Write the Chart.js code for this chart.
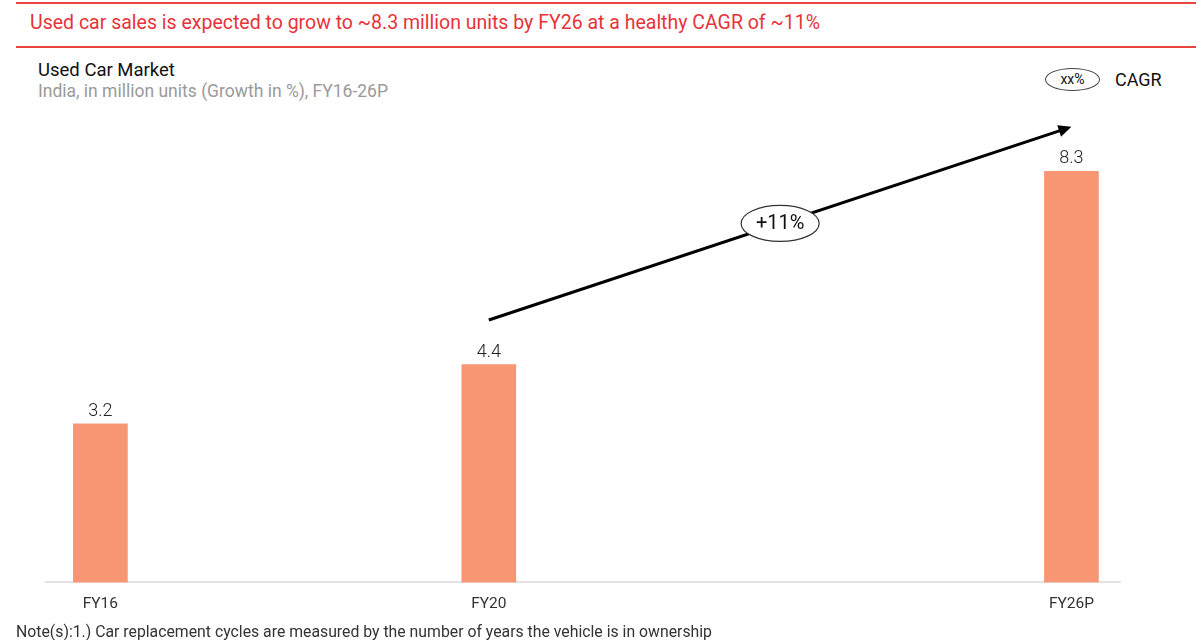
<!DOCTYPE html>
<html>
<head>
<meta charset="utf-8">
<script src="https://cdn.jsdelivr.net/npm/chart.js@4.4.0/dist/chart.umd.min.js"></script>
<style>
  html, body { margin: 0; padding: 0; background: #fff; }
  body { width: 1196px; height: 640px; position: relative; overflow: hidden; font-family: Roboto, sans-serif; }
  .rule { position: absolute; left: 16px; right: 0; height: 2px; background: #e8433e; }
  .headline { position: absolute; left: 30px; top: 11px; font-size: 19.5px; color: #e8333a; white-space: nowrap; }
  .title { position: absolute; left: 38px; top: 59px; font-size: 18.5px; color: #111; }
  .subtitle { position: absolute; left: 38px; top: 81px; font-size: 17.5px; color: #9a9a9a; }
  .note { position: absolute; left: 16px; top: 622px; font-size: 15.8px; color: #333; white-space: nowrap; }
  .legend { position: absolute; left: 1045px; top: 67px; height: 24px; display: flex; align-items: center; }
  .pill { width: 55px; height: 23px; border: 1.5px solid #444; border-radius: 50%; box-sizing: border-box;
          font-size: 14px; display: flex; align-items: center; justify-content: center; color: #111; }
  .legend span { margin-left: 15px; font-size: 18px; color: #111; }
  #wrap { position: absolute; left: 0; top: 0; width: 1196px; height: 640px; }
</style>
</head>
<body>
<div class="rule" style="top:2px"></div>
<div class="headline">Used car sales is expected to grow to ~8.3 million units by FY26 at a healthy CAGR of ~11%</div>
<div class="rule" style="top:46px"></div>
<div class="title">Used Car Market</div>
<div class="subtitle">India, in million units (Growth in %), FY16-26P</div>
<div class="legend"><div class="pill">xx%</div><span>CAGR</span></div>
<div id="wrap"><canvas id="chart"></canvas></div>
<div class="note">Note(s):1.) Car replacement cycles are measured by the number of years the vehicle is in ownership</div>
<script>
// fiscal years (x positions on a time scale), labels and values in million units
const years = [16, 20, 26];
const yearLabels = ['FY16', 'FY20', 'FY26P'];
const units = [3.2, 4.4, 8.3];

// CAGR arrow, in data units [year, million units]
const cagrText = '+11%';
const arrowFrom = [20, 5.3];
const arrowTo = [26, 9.2];

const overlay = {
  id: 'overlay',
  afterDatasetsDraw(chart) {
    const { ctx, scales: { x, y } } = chart;
    ctx.save();
    // value labels
    ctx.font = '300 18px Roboto, sans-serif';
    ctx.fillStyle = '#222';
    ctx.textAlign = 'center';
    ctx.textBaseline = 'alphabetic';
    chart.getDatasetMeta(0).data.forEach((bar, i) => {
      ctx.fillText(units[i].toFixed(1), bar.x, bar.y - 8);
    });

    // arrow
    const x1 = x.getPixelForValue(arrowFrom[0]), y1 = y.getPixelForValue(arrowFrom[1]);
    const x2 = x.getPixelForValue(arrowTo[0]), y2 = y.getPixelForValue(arrowTo[1]);
    const ang = Math.atan2(y2 - y1, x2 - x1);
    ctx.strokeStyle = '#000';
    ctx.lineWidth = 3;
    ctx.beginPath();
    ctx.moveTo(x1, y1);
    ctx.lineTo(x2 - 8 * Math.cos(ang), y2 - 8 * Math.sin(ang));
    ctx.stroke();
    ctx.fillStyle = '#000';
    ctx.beginPath();
    ctx.moveTo(x2, y2);
    ctx.lineTo(x2 - 13 * Math.cos(ang) + 6 * Math.sin(ang), y2 - 13 * Math.sin(ang) - 6 * Math.cos(ang));
    ctx.lineTo(x2 - 13 * Math.cos(ang) - 6 * Math.sin(ang), y2 - 13 * Math.sin(ang) + 6 * Math.cos(ang));
    ctx.closePath();
    ctx.fill();

    // CAGR bubble
    const mx = (x1 + x2) / 2, my = (y1 + y2) / 2;
    ctx.beginPath();
    ctx.ellipse(mx, my, 39, 18, 0, 0, Math.PI * 2);
    ctx.fillStyle = '#fff';
    ctx.fill();
    ctx.lineWidth = 1.2;
    ctx.strokeStyle = '#333';
    ctx.stroke();
    ctx.fillStyle = '#111';
    ctx.font = '20px Roboto, sans-serif';
    ctx.textBaseline = 'middle';
    ctx.fillText(cagrText, mx, my + 1);
    ctx.restore();
  }
};

new Chart(document.getElementById('chart'), {
  type: 'bar',
  data: {
    datasets: [{
      data: years.map((yr, i) => ({ x: yr, y: units[i] })),
      backgroundColor: '#f89673',
      barThickness: 54
    }]
  },
  options: {
    responsive: true,
    maintainAspectRatio: false,
    animation: false,
    layout: { padding: { left: 46, right: 76, top: 112, bottom: 23 } },
    plugins: { legend: { display: false }, tooltip: { enabled: false } },
    scales: {
      x: {
        type: 'linear',
        offset: false,
        min: 15.44,
        max: 26.5,
        afterBuildTicks: axis => { axis.ticks = years.map(v => ({ value: v })); },
        ticks: {
          autoSkip: false,
          maxRotation: 0,
          padding: 4,
          color: '#333',
          font: { family: 'Roboto', size: 15.5 },
          callback: v => yearLabels[years.indexOf(v)]
        },
        grid: { display: false },
        border: { display: true, color: '#e3e3e3', width: 2 }
      },
      y: { display: false, min: 0, max: 9.5 }
    }
  },
  plugins: [overlay]
});
</script>
</body>
</html>
